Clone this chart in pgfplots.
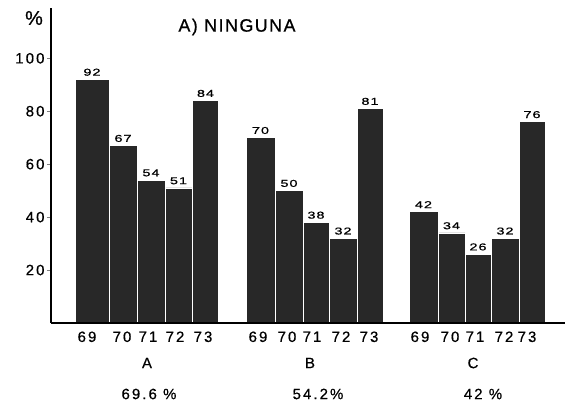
\documentclass[border=0pt]{standalone}
\usepackage{pgfplots}
\pgfplotsset{compat=1.18}
\usepackage{fontspec}
\setmainfont{Liberation Sans}
\newfontfamily\ticksfont[LetterSpace=14, FakeBold=0.6]{Liberation Sans}
\newfontfamily\valfont[LetterSpace=10, FakeStretch=1.45, FakeBold=0.8]{Liberation Sans}
\newfontfamily\titlefont[LetterSpace=8, FakeBold=0.6]{Liberation Sans}
\definecolor{barcol}{RGB}{40,40,40}

\begin{document}
\begin{tikzpicture}
\begin{axis}[
  width=514bp, height=315bp, scale only axis,
  xmin=0, xmax=514, ymin=0, ymax=119,
  axis x line=bottom, axis y line=left,
  axis line style={-, line width=1.3pt},
  axis on top, clip=false,
  ytick={20,40,60,80,100},
  xtick={36,71,97,124,152,207,236,261,290,318,369,399,424,453,476},
  xticklabels={69,70,71,72,73,69,70,71,72,73,69,70,71,72,73},
  major x tick style={draw=none},
  tick align=outside,
  major tick length=4bp,
  major tick style={line width=1pt},
  tick label style={font=\ticksfont\fontsize{15}{17}\selectfont},
  /pgf/number format/assume math mode=true,
  yticklabel style={xshift=1bp},
  xticklabel style={yshift=-1bp},
]
% group A
\addplot[ybar interval, fill=barcol, draw=white, line width=0.8pt] coordinates
  {(24,92) (58,67) (86,54) (114,51) (141,84) (167,84)};
% group B
\addplot[ybar interval, fill=barcol, draw=white, line width=0.8pt] coordinates
  {(195,70) (224,50) (252,38) (278,32) (306,81) (332,81)};
% group C
\addplot[ybar interval, fill=barcol, draw=white, line width=0.8pt] coordinates
  {(358,42) (387,34) (414,26) (440,32) (468,76) (494,76)};
% value labels
\addplot[draw=none, mark=none, nodes near coords, point meta=y,
  nodes near coords style={font=\valfont\fontsize{10}{12}\selectfont, anchor=south, inner sep=3.5bp}]
  coordinates {(41,92) (72,67) (100,54) (127.5,51) (154.5,84)
               (209.5,70) (238,50) (265,38) (292,32) (319,81)
               (372.5,42) (400.5,34) (427,26) (454,32) (481,76)};
\end{axis}
\node[font=\titlefont\fontsize{20}{22}\selectfont] at (-17bp,305bp) {\%};
\node[font=\titlefont\fontsize{18}{20}\selectfont] at (186bp,296bp) {A) NINGUNA};
\begin{scope}[every node/.style={font=\ticksfont\fontsize{15}{17}\selectfont}]
\node at (96bp,-40bp) {A};
\node at (259bp,-40bp) {B};
\node at (422bp,-40bp) {C};
\node at (98bp,-71bp) {69.6 \%};
\node at (267bp,-71bp) {54.2\%};
\node at (432bp,-71bp) {42 \%};
\end{scope}
\pgfresetboundingbox
\useasboundingbox (-51bp,-82bp) rectangle (519bp,323bp);
\end{tikzpicture}
\end{document}
